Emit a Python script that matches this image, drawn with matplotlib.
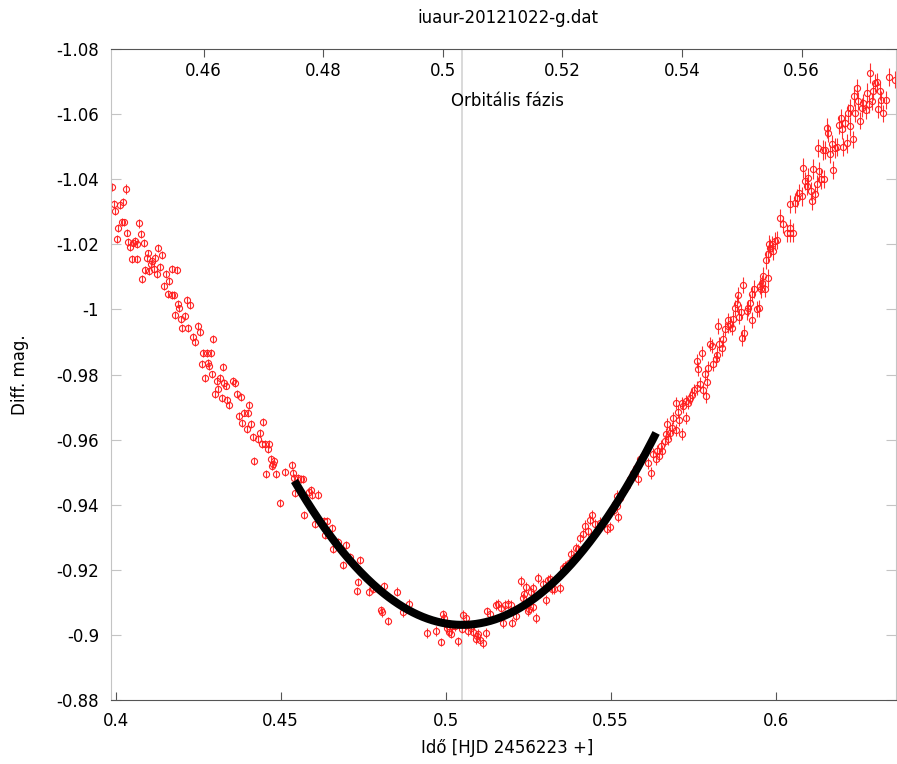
import numpy as np
import matplotlib
matplotlib.use("Agg")
import matplotlib.pyplot as plt
from matplotlib.ticker import FuncFormatter

# --- adatok (HJD - 2456223, diff. mag., hiba) szakaszonként ---
x_a = [0.3989, 0.4031, 0.3995, 0.3998, 0.4013, 0.4022, 0.4019, 0.4025, 0.4007, 0.4004,
       0.4071, 0.4077, 0.4034, 0.4037, 0.4044, 0.4053, 0.4059, 0.4065, 0.4086, 0.4050,
       0.4065, 0.4098, 0.4128, 0.4140, 0.4095, 0.4110, 0.4119, 0.4107, 0.4089, 0.4101,
       0.4116, 0.4134, 0.4125, 0.4080, 0.4153, 0.4162, 0.4171, 0.4186, 0.4147, 0.4159,
       0.4171, 0.4177, 0.4189, 0.4192, 0.4216, 0.4225, 0.4180, 0.4198, 0.4210, 0.4201,
       0.4219, 0.4250, 0.4256, 0.4234, 0.4295]
y_a = [-1.0376, -1.0370, -1.0324, -1.0302, -1.0321, -1.0330, -1.0268, -1.0268, -1.0250, -1.0216,
       -1.0265, -1.0232, -1.0235, -1.0207, -1.0192, -1.0204, -1.0210, -1.0201, -1.0204, -1.0155,
       -1.0155, -1.0173, -1.0189, -1.0167, -1.0158, -1.0149, -1.0158, -1.0139, -1.0121, -1.0118,
       -1.0124, -1.0130, -1.0109, -1.0093, -1.0109, -1.0087, -1.0124, -1.0121, -1.0072, -1.0047,
       -1.0044, -1.0044, -1.0017, -1.0004, -1.0029, -1.0013, -0.9983, -0.9970, -0.9980, -0.9943,
       -0.9943, -0.9949, -0.9930, -0.9915, -0.9909]
e_a = [0.0011, 0.0014, 0.0012, 0.0011, 0.0012, 0.0013, 0.0012, 0.0011, 0.0013, 0.0012,
       0.0014, 0.0012, 0.0011, 0.0013, 0.0012, 0.0011, 0.0012, 0.0013, 0.0011, 0.0012,
       0.0012, 0.0011, 0.0013, 0.0012, 0.0011, 0.0012, 0.0014, 0.0012, 0.0011, 0.0012,
       0.0013, 0.0012, 0.0011, 0.0012, 0.0013, 0.0012, 0.0011, 0.0012, 0.0012, 0.0013,
       0.0011, 0.0012, 0.0012, 0.0011, 0.0013, 0.0012, 0.0012, 0.0011, 0.0013, 0.0012,
       0.0012, 0.0011, 0.0013, 0.0012, 0.0012]

x_b = [0.4240, 0.4265, 0.4277, 0.4289, 0.4262, 0.4280, 0.4283, 0.4325, 0.4292, 0.4271,
       0.4307, 0.4316, 0.4328, 0.4334, 0.4356, 0.4362, 0.4310, 0.4301, 0.4322, 0.4337,
       0.4344, 0.4368, 0.4380, 0.4404, 0.4374, 0.4389, 0.4401, 0.4383, 0.4398, 0.4410,
       0.4447, 0.4416, 0.4437, 0.4431, 0.4444, 0.4453, 0.4465, 0.4462, 0.4419, 0.4471,
       0.4480, 0.4477, 0.4474, 0.4456, 0.4486, 0.4513, 0.4534, 0.4537, 0.4540, 0.4553,
       0.4562, 0.4544]
y_b = [-0.9900, -0.9866, -0.9866, -0.9866, -0.9832, -0.9835, -0.9826, -0.9823, -0.9801, -0.9789,
       -0.9780, -0.9789, -0.9774, -0.9765, -0.9780, -0.9774, -0.9755, -0.9740, -0.9728, -0.9722,
       -0.9706, -0.9740, -0.9731, -0.9706, -0.9672, -0.9682, -0.9682, -0.9651, -0.9633, -0.9648,
       -0.9654, -0.9608, -0.9620, -0.9602, -0.9586, -0.9586, -0.9586, -0.9571, -0.9534, -0.9540,
       -0.9534, -0.9525, -0.9519, -0.9494, -0.9494, -0.9500, -0.9522, -0.9497, -0.9482, -0.9482,
       -0.9479, -0.9436]
e_b = [0.0012, 0.0013, 0.0012, 0.0011, 0.0012, 0.0013, 0.0012, 0.0012, 0.0011, 0.0013,
       0.0012, 0.0012, 0.0013, 0.0011, 0.0012, 0.0013, 0.0012, 0.0012, 0.0011, 0.0012,
       0.0013, 0.0012, 0.0012, 0.0013, 0.0012, 0.0011, 0.0012, 0.0013, 0.0012, 0.0012,
       0.0013, 0.0012, 0.0012, 0.0011, 0.0013, 0.0012, 0.0012, 0.0013, 0.0012, 0.0012,
       0.0013, 0.0012, 0.0012, 0.0013, 0.0012, 0.0012, 0.0013, 0.0012, 0.0012, 0.0013,
       0.0012, 0.0013]

x_c = [0.4568, 0.4498, 0.4586, 0.4592, 0.4595, 0.4613, 0.4571, 0.4604, 0.4631, 0.4640,
       0.4656, 0.4634, 0.4674, 0.4698, 0.4659, 0.4710, 0.4740, 0.4689, 0.4734, 0.4731,
       0.4768, 0.4780, 0.4813, 0.4853, 0.4804]
y_c = [-0.9479, -0.9405, -0.9439, -0.9445, -0.9430, -0.9430, -0.9368, -0.9341, -0.9350, -0.9350,
       -0.9328, -0.9307, -0.9285, -0.9276, -0.9264, -0.9239, -0.9230, -0.9215, -0.9162, -0.9135,
       -0.9132, -0.9141, -0.9150, -0.9132, -0.9076]
e_c = [0.0013, 0.0012, 0.0013, 0.0013, 0.0012, 0.0014, 0.0013, 0.0013, 0.0012, 0.0013,
       0.0014, 0.0013, 0.0013, 0.0012, 0.0013, 0.0014, 0.0013, 0.0013, 0.0012, 0.0013,
       0.0014, 0.0013, 0.0013, 0.0014, 0.0013]

x_d = [0.4807, 0.4825, 0.4871, 0.4889, 0.4944, 0.4971, 0.4986, 0.4992, 0.4995, 0.5001,
       0.5004, 0.5010, 0.5016, 0.5019, 0.5028, 0.5037, 0.5050, 0.5053, 0.5062, 0.5068,
       0.5077, 0.5083, 0.5095, 0.5092, 0.5104, 0.5113, 0.5098, 0.5122, 0.5125, 0.5134,
       0.5153, 0.5159, 0.5168, 0.5180, 0.5174, 0.5189]
y_d = [-0.9070, -0.9043, -0.9070, -0.9095, -0.9006, -0.9012, -0.8978, -0.9064, -0.9052, -0.9033,
       -0.9021, -0.9009, -0.9003, -0.9027, -0.9027, -0.8981, -0.9018, -0.9061, -0.9052, -0.9012,
       -0.9021, -0.9009, -0.8997, -0.8987, -0.8984, -0.8975, -0.9003, -0.9006, -0.9073, -0.9064,
       -0.9092, -0.9095, -0.9083, -0.9092, -0.9037, -0.9095]
e_d = [0.0014, 0.0013, 0.0014, 0.0014, 0.0015, 0.0014, 0.0013, 0.0014, 0.0015, 0.0014,
       0.0014, 0.0013, 0.0014, 0.0015, 0.0014, 0.0014, 0.0013, 0.0015, 0.0014, 0.0014,
       0.0015, 0.0014, 0.0013, 0.0014, 0.0015, 0.0014, 0.0014, 0.0015, 0.0014, 0.0013,
       0.0014, 0.0015, 0.0014, 0.0014, 0.0015, 0.0014]

x_e = [0.5198, 0.5201, 0.5213, 0.5250, 0.5265, 0.5274, 0.5253, 0.5228, 0.5244, 0.5237,
       0.5234, 0.5265, 0.5259, 0.5280, 0.5295, 0.5304, 0.5322, 0.5316, 0.5310, 0.5328,
       0.5347, 0.5356, 0.5362, 0.5374, 0.5380, 0.5386, 0.5395, 0.5401, 0.5407, 0.5416,
       0.5422, 0.5431, 0.5444, 0.5437, 0.5453, 0.5468, 0.5489, 0.5498, 0.5510, 0.5519,
       0.5522, 0.5519]
y_e = [-0.9092, -0.9037, -0.9058, -0.9073, -0.9086, -0.9052, -0.9080, -0.9166, -0.9147, -0.9126,
       -0.9113, -0.9144, -0.9132, -0.9175, -0.9156, -0.9107, -0.9141, -0.9172, -0.9169, -0.9141,
       -0.9144, -0.9206, -0.9212, -0.9221, -0.9249, -0.9236, -0.9267, -0.9264, -0.9298, -0.9310,
       -0.9335, -0.9319, -0.9368, -0.9353, -0.9341, -0.9344, -0.9325, -0.9332, -0.9384, -0.9396,
       -0.9362, -0.9427]
e_e = [0.0015, 0.0014, 0.0015, 0.0016, 0.0015, 0.0015, 0.0014, 0.0016, 0.0015, 0.0015,
       0.0016, 0.0015, 0.0014, 0.0015, 0.0016, 0.0015, 0.0015, 0.0016, 0.0015, 0.0014,
       0.0015, 0.0016, 0.0015, 0.0015, 0.0016, 0.0015, 0.0016, 0.0015, 0.0015, 0.0016,
       0.0017, 0.0015, 0.0016, 0.0016, 0.0015, 0.0017, 0.0016, 0.0016, 0.0017, 0.0016,
       0.0016, 0.0017]

x_f = [0.5513, 0.5507, 0.5528, 0.5550, 0.5559, 0.5568, 0.5577, 0.5583, 0.5589, 0.5604,
       0.5622, 0.5613, 0.5628, 0.5637, 0.5640, 0.5647, 0.5656, 0.5653, 0.5665, 0.5674,
       0.5668, 0.5680, 0.5686, 0.5698, 0.5671, 0.5716, 0.5689, 0.5707, 0.5704, 0.5728,
       0.5698, 0.5716, 0.5719, 0.5728, 0.5734, 0.5740, 0.5747, 0.5753, 0.5762, 0.5771,
       0.5780, 0.5789, 0.5792, 0.5765, 0.5762, 0.5777, 0.5786, 0.5795, 0.5801]
y_f = [-0.9402, -0.9390, -0.9421, -0.9457, -0.9479, -0.9497, -0.9513, -0.9479, -0.9540, -0.9559,
       -0.9497, -0.9528, -0.9556, -0.9540, -0.9565, -0.9550, -0.9565, -0.9580, -0.9596, -0.9602,
       -0.9617, -0.9620, -0.9636, -0.9629, -0.9648, -0.9617, -0.9666, -0.9660, -0.9685, -0.9666,
       -0.9712, -0.9712, -0.9703, -0.9719, -0.9712, -0.9728, -0.9737, -0.9752, -0.9758, -0.9771,
       -0.9752, -0.9734, -0.9777, -0.9817, -0.9841, -0.9866, -0.9801, -0.9820, -0.9894]
e_f = [0.0016, 0.0017, 0.0016, 0.0017, 0.0018, 0.0017, 0.0016, 0.0018, 0.0017, 0.0017,
       0.0018, 0.0017, 0.0017, 0.0018, 0.0019, 0.0017, 0.0018, 0.0018, 0.0017, 0.0019,
       0.0018, 0.0018, 0.0019, 0.0018, 0.0018, 0.0019, 0.0018, 0.0019, 0.0020, 0.0018,
       0.0019, 0.0019, 0.0020, 0.0019, 0.0019, 0.0020, 0.0020, 0.0019, 0.0021, 0.0020,
       0.0020, 0.0021, 0.0020, 0.0022, 0.0021, 0.0021, 0.0022, 0.0021, 0.0022]

x_g = [0.5810, 0.5819, 0.5822, 0.5807, 0.5837, 0.5828, 0.5840, 0.5825, 0.5847, 0.5856,
       0.5862, 0.5856, 0.5871, 0.5868, 0.5898, 0.5904, 0.5889, 0.5895, 0.5877, 0.5883,
       0.5886, 0.5901, 0.5913, 0.5916, 0.5928, 0.5922, 0.5928, 0.5934, 0.5944, 0.5950,
       0.5956, 0.5959, 0.5962, 0.5977, 0.5968, 0.5953, 0.5971, 0.5977, 0.5983, 0.5989,
       0.5998, 0.6004, 0.5992, 0.5980, 0.6034, 0.6044, 0.6053]
y_g = [-0.9832, -0.9848, -0.9860, -0.9887, -0.9881, -0.9894, -0.9909, -0.9949, -0.9940, -0.9949,
       -0.9955, -0.9967, -0.9970, -0.9943, -0.9912, -0.9927, -0.9977, -0.9992, -1.0004, -1.0017,
       -1.0044, -1.0075, -0.9995, -1.0004, -0.9967, -1.0020, -1.0047, -1.0063, -1.0001, -1.0004,
       -1.0063, -1.0081, -1.0103, -1.0096, -1.0063, -1.0072, -1.0152, -1.0170, -1.0189, -1.0201,
       -1.0210, -1.0213, -1.0179, -1.0201, -1.0235, -1.0235, -1.0235]
e_g = [0.0022, 0.0021, 0.0023, 0.0022, 0.0024, 0.0022, 0.0023, 0.0024, 0.0022, 0.0023,
       0.0025, 0.0023, 0.0024, 0.0022, 0.0025, 0.0024, 0.0023, 0.0025, 0.0024, 0.0026,
       0.0024, 0.0025, 0.0027, 0.0024, 0.0025, 0.0026, 0.0024, 0.0027, 0.0025, 0.0026,
       0.0027, 0.0025, 0.0026, 0.0028, 0.0025, 0.0026, 0.0027, 0.0026, 0.0028, 0.0026,
       0.0027, 0.0028, 0.0026, 0.0027, 0.0028, 0.0027, 0.0029]

x_h = [0.6013, 0.6022, 0.6044, 0.6044, 0.6059, 0.6065, 0.6071, 0.6080, 0.6083, 0.6089,
       0.6095, 0.6098, 0.6107, 0.6110, 0.6119, 0.6113, 0.6125, 0.6131, 0.6137, 0.6147,
       0.6174, 0.6128, 0.6144, 0.6150, 0.6165, 0.6171, 0.6180, 0.6186, 0.6204, 0.6216,
       0.6234, 0.6159, 0.6156, 0.6192, 0.6201, 0.6198, 0.6210, 0.6225, 0.6219, 0.6225,
       0.6237, 0.6247, 0.6250, 0.6240, 0.6256, 0.6262, 0.6265, 0.6274, 0.6277, 0.6283,
       0.6292, 0.6295, 0.6301, 0.6307, 0.6286, 0.6316, 0.6310, 0.6319, 0.6325, 0.6334,
       0.6344, 0.6362]
y_h = [-1.0281, -1.0262, -1.0250, -1.0324, -1.0327, -1.0342, -1.0358, -1.0348, -1.0434, -1.0394,
       -1.0379, -1.0404, -1.0364, -1.0333, -1.0354, -1.0431, -1.0385, -1.0425, -1.0401, -1.0401,
       -1.0428, -1.0496, -1.0490, -1.0490, -1.0477, -1.0508, -1.0496, -1.0499, -1.0499, -1.0511,
       -1.0523, -1.0542, -1.0557, -1.0566, -1.0554, -1.0588, -1.0573, -1.0563, -1.0603, -1.0619,
       -1.0655, -1.0680, -1.0640, -1.0603, -1.0579, -1.0619, -1.0634, -1.0612, -1.0665, -1.0631,
       -1.0640, -1.0671, -1.0695, -1.0698, -1.0726, -1.0671, -1.0616, -1.0643, -1.0603, -1.0643,
       -1.0714, -1.0705]
e_h = [0.0028, 0.0026, 0.0029, 0.0027, 0.0030, 0.0028, 0.0026, 0.0029, 0.0031, 0.0028,
       0.0027, 0.0030, 0.0028, 0.0029, 0.0027, 0.0030, 0.0028, 0.0029, 0.0031, 0.0028,
       0.0027, 0.0029, 0.0030, 0.0028, 0.0027, 0.0029, 0.0031, 0.0028, 0.0027, 0.0029,
       0.0026, 0.0028, 0.0030, 0.0027, 0.0029, 0.0028, 0.0026, 0.0029, 0.0027, 0.0028,
       0.0030, 0.0029, 0.0027, 0.0028, 0.0026, 0.0029, 0.0028, 0.0027, 0.0030, 0.0028,
       0.0026, 0.0029, 0.0027, 0.0028, 0.0030, 0.0027, 0.0028, 0.0029, 0.0026, 0.0028,
       0.0027, 0.0026]

# illesztés tartománya és a minimum időpontja
fit_start, fit_end = 0.4542, 0.5638
t_min = 0.5050

# tengelyek
x_lim = (0.3986, 0.6365)
phase_lim = (0.4445, 0.5758)
y_ticks = [-1.08, -1.06, -1.04, -1.02, -1.00, -0.98, -0.96, -0.94, -0.92, -0.90, -0.88]
x_ticks = [0.40, 0.45, 0.50, 0.55, 0.60]
phase_ticks = [0.46, 0.48, 0.50, 0.52, 0.54, 0.56]

x = np.array(x_a + x_b + x_c + x_d + x_e + x_f + x_g + x_h)
y = np.array(y_a + y_b + y_c + y_d + y_e + y_f + y_g + y_h)
err = np.array(e_a + e_b + e_c + e_d + e_e + e_f + e_g + e_h)

plt.rcParams['font.family'] = ['DejaVu Sans']
plt.rcParams['font.size'] = 12

W, H = 897, 764
fig = plt.figure(figsize=(W / 100, H / 100), dpi=100)
ax = fig.add_axes([111 / W, 64 / H, 785 / W, 651 / H])

dark = '#555555'
light = '#c4c4c4'

ax.axvline(t_min, color='#d0d0d0', lw=1.1, zorder=1)

ax.errorbar(x, y, yerr=err, fmt='o', ms=4.4, mfc='none', mec='#ff2020', mew=0.8,
            ecolor='#ff3030', elinewidth=0.8, capsize=0, zorder=2)

# másodfokú illesztés a minimum körül
mask = (x >= fit_start) & (x <= fit_end)
coef = np.polyfit(x[mask], y[mask], 2)
xf = np.linspace(fit_start, fit_end, 300)
ax.plot(xf, np.polyval(coef, xf), color='black', lw=5.8, solid_capstyle='butt', zorder=3)

ax.set_xlim(*x_lim)
ax.set_ylim(-0.88, -1.08)
ax.set_yticks(y_ticks)
ax.set_xticks(x_ticks)
fmt = FuncFormatter(lambda v, p: f"{round(v, 4):g}")
ax.yaxis.set_major_formatter(fmt)
ax.xaxis.set_major_formatter(fmt)

ax.tick_params(axis='y', direction='in', length=7, width=0.8, color=light,
               pad=8.5, right=True, labelsize=12)
ax.tick_params(axis='x', direction='in', length=6, width=0.8, color=dark,
               pad=9, top=False, labelsize=12)
ax.spines['left'].set_color(light)
ax.spines['right'].set_color(light)
ax.spines['bottom'].set_color(dark)
ax.spines['top'].set_color(dark)
for s in ax.spines.values():
    s.set_linewidth(0.8)

ax2 = ax.twiny()
ax2.set_xlim(*phase_lim)
ax2.set_xticks(phase_ticks)
ax2.xaxis.set_major_formatter(fmt)
ax2.tick_params(axis='x', direction='in', length=5.5, width=0.8, color=dark,
                pad=-22, labelsize=12)
for s in ax2.spines.values():
    s.set_visible(False)

ax.text(0.5045, 0.92, 'Orbitális fázis', transform=ax.transAxes,
        ha='center', va='center', fontsize=12)
fig.text(507.5 / W, 1 - 18 / H, 'iuaur-20121022-g.dat', ha='center', va='center', fontsize=12)
fig.text(507.5 / W, 1 - 748 / H, 'Idő [HJD 2456223 +]', ha='center', va='center', fontsize=12)
fig.text(20 / W, 1 - 375 / H, 'Diff. mag.', ha='center', va='center', rotation=90, fontsize=12)

fig.savefig('out.png', dpi=100)
